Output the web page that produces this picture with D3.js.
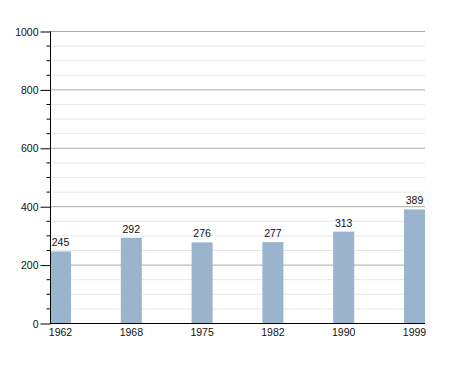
<!DOCTYPE html>
<html>
<head>
<meta charset="utf-8">
<script src="https://cdn.jsdelivr.net/npm/d3@7"></script>
<style>
  body { margin: 0; background: #fff; }
  text { font-family: "Liberation Sans", Arial, sans-serif; font-size: 10.5px; fill: #111; }
</style>
</head>
<body>
<svg id="chart" width="455" height="373"></svg>
<script>
// chart data
var years = ["1962", "1968", "1975", "1982", "1990", "1999"];
var population = [245, 292, 276, 277, 313, 389];
var yTicks = [0, 200, 400, 600, 800, 1000];

var dims = { left: 50, right: 425, top: 31, bottom: 323 };

var svg = d3.select("#chart");

var xScale = d3
  .scaleBand()
  .domain(years)
  .range([dims.left, dims.right])
  .paddingInner(0.703)
  .paddingOuter(0);

var yScale = d3.scaleLinear().domain([0, 1000]).range([dims.bottom, dims.top]);

// minor grid every 50
var minor = d3.range(50, 1001, 50).filter(function (v) {
  return v % 200 !== 0;
});
svg
  .append("g")
  .selectAll("line")
  .data(minor)
  .enter()
  .append("line")
  .attr("x1", dims.left)
  .attr("x2", dims.right)
  .attr("y1", function (d) { return yScale(d) + 0.5; })
  .attr("y2", function (d) { return yScale(d) + 0.5; })
  .attr("stroke", "#e6e6e6");

// major grid
svg
  .append("g")
  .selectAll("line")
  .data(yTicks.slice(1))
  .enter()
  .append("line")
  .attr("x1", dims.left)
  .attr("x2", dims.right)
  .attr("y1", function (d) { return yScale(d) + 0.5; })
  .attr("y2", function (d) { return yScale(d) + 0.5; })
  .attr("stroke", "#aaaaaa");

// bars
svg
  .append("g")
  .selectAll("rect")
  .data(population)
  .enter()
  .append("rect")
  .attr("x", function (d, i) { return xScale(years[i]); })
  .attr("width", xScale.bandwidth())
  .attr("y", function (d) { return yScale(d); })
  .attr("height", function (d) { return dims.bottom - yScale(d); })
  .attr("fill", "#9ab4cd");

// value labels
svg
  .append("g")
  .selectAll("text")
  .data(population)
  .enter()
  .append("text")
  .attr("text-anchor", "middle")
  .attr("y", function (d) { return yScale(d) - 5; })
  .text(function (d) { return d; })
  .attr("x", function (d, i) {
    var c = xScale(years[i]) + xScale.bandwidth() / 2;
    var w = this.getComputedTextLength();
    return Math.max(c, dims.left + w / 2);
  });

// y axis with minor ticks
var yAxis = d3
  .axisLeft(yScale)
  .tickValues(yTicks)
  .tickFormat(d3.format("d"))
  .tickSize(10)
  .tickPadding(2);
var yg = svg
  .append("g")
  .attr("transform", "translate(" + (dims.left + 0.5) + ",0.5)")
  .call(yAxis);
yg.select(".domain").remove();
yg.selectAll("text").style("font-size", "10.5px").attr("dy", "0.35em");
yg.selectAll("line").attr("stroke", "#000");
yg.append("g")
  .selectAll("line")
  .data(minor)
  .enter()
  .append("line")
  .attr("x1", -4)
  .attr("x2", 0)
  .attr("y1", function (d) { return yScale(d); })
  .attr("y2", function (d) { return yScale(d); })
  .attr("stroke", "#000");
yg.append("line")
  .attr("x1", 0)
  .attr("x2", 0)
  .attr("y1", dims.top)
  .attr("y2", dims.bottom)
  .attr("stroke", "#000");

// x axis
var xAxis = d3.axisBottom(xScale).tickSize(0).tickPadding(5);
var xg = svg
  .append("g")
  .attr("transform", "translate(0," + (dims.bottom + 0.5) + ")")
  .call(xAxis);
xg.select(".domain").remove();
xg.selectAll("text").style("font-size", "10.5px");
xg.append("line")
  .attr("x1", dims.left)
  .attr("x2", dims.right)
  .attr("stroke", "#000");
</script>
</body>
</html>
